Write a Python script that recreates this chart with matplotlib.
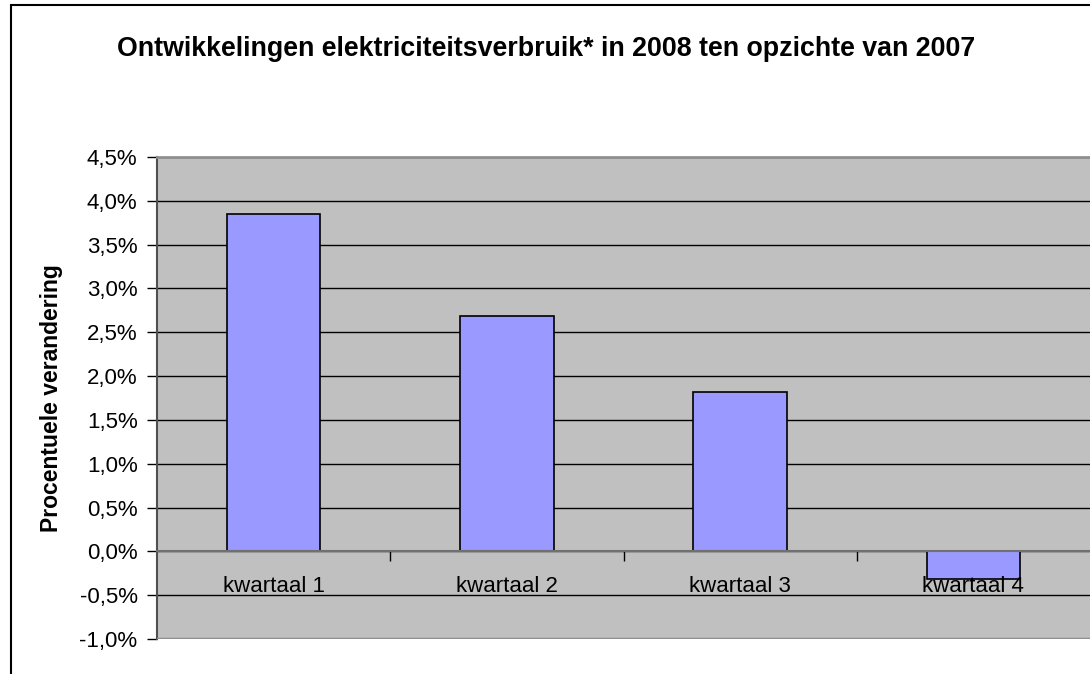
import numpy as np
import matplotlib
matplotlib.use('Agg')
import matplotlib.pyplot as plt
from matplotlib.ticker import FuncFormatter, MultipleLocator
from matplotlib.patches import Rectangle

plt.rcParams['font.family'] = ['Liberation Sans', 'DejaVu Sans']

# data
kwartalen = ['kwartaal 1', 'kwartaal 2', 'kwartaal 3', 'kwartaal 4']
verandering = [3.85, 2.69, 1.82, -0.31]  # procent
titel = 'Ontwikkelingen elektriciteitsverbruik* in 2008 ten opzichte van 2007'
ylabel = 'Procentuele verandering'

fig = plt.figure(figsize=(10.9, 6.74), dpi=100)
ax = fig.add_axes([157 / 1090, 1 - 639 / 674, 1 - 157 / 1090, (639 - 157) / 674])
ax.set_facecolor('#C0C0C0')

x = np.arange(len(kwartalen))
ax.bar(x, verandering, width=0.4, color='#9999FF', edgecolor='black', linewidth=1.2, zorder=3)

ax.set_xlim(-0.5, len(kwartalen) - 0.5)
ax.set_ylim(-1.0, 4.5)
ax.yaxis.set_major_locator(MultipleLocator(0.5))
ax.yaxis.set_major_formatter(FuncFormatter(lambda v, p: f'{v:.1f}%'.replace('.', ',')))
ax.yaxis.grid(True, color='black', linewidth=1)
ax.set_axisbelow(True)

# x-as op nul, streepjes tussen de kwartalen
ax.spines['bottom'].set_position(('data', 0))
ax.spines['bottom'].set_color('#707070')
ax.spines['bottom'].set_linewidth(1.5)
ax.spines['bottom'].set_zorder(4)
ax.set_xticks(x[:-1] + 0.5)
ax.set_xticklabels([])
ax.tick_params(axis='x', direction='out', length=7, width=1, color='black')
for i, lab in enumerate(kwartalen):
    ax.annotate(lab, (x[i], 0), xytext=(0, -25), textcoords='offset points',
                ha='center', va='center', fontsize=16, zorder=5)

ax.spines['left'].set_color('#505050')
ax.spines['left'].set_linewidth(1.5)
ax.spines['top'].set_color('#909090')
ax.spines['top'].set_linewidth(2)
ax.spines['right'].set_visible(False)
ax.axhline(-1.0, color='#909090', linewidth=2.5, zorder=4)
ax.tick_params(axis='y', direction='out', length=7, width=1, color='black',
               labelsize=16, pad=7)

ax.set_ylabel(ylabel, fontsize=16.5, fontweight='bold', labelpad=12)
fig.text(546 / 1090, 1 - 49 / 674, titel, ha='center', va='center',
         fontsize=19.3, fontweight='bold')

# rand om de grafiek
fig.patches.append(Rectangle((11 / 1090, -0.1), 1.2, 1.1 - 5 / 674, transform=fig.transFigure,
                             fill=False, edgecolor='black', linewidth=1.5))

fig.savefig('out.png', dpi=100)
